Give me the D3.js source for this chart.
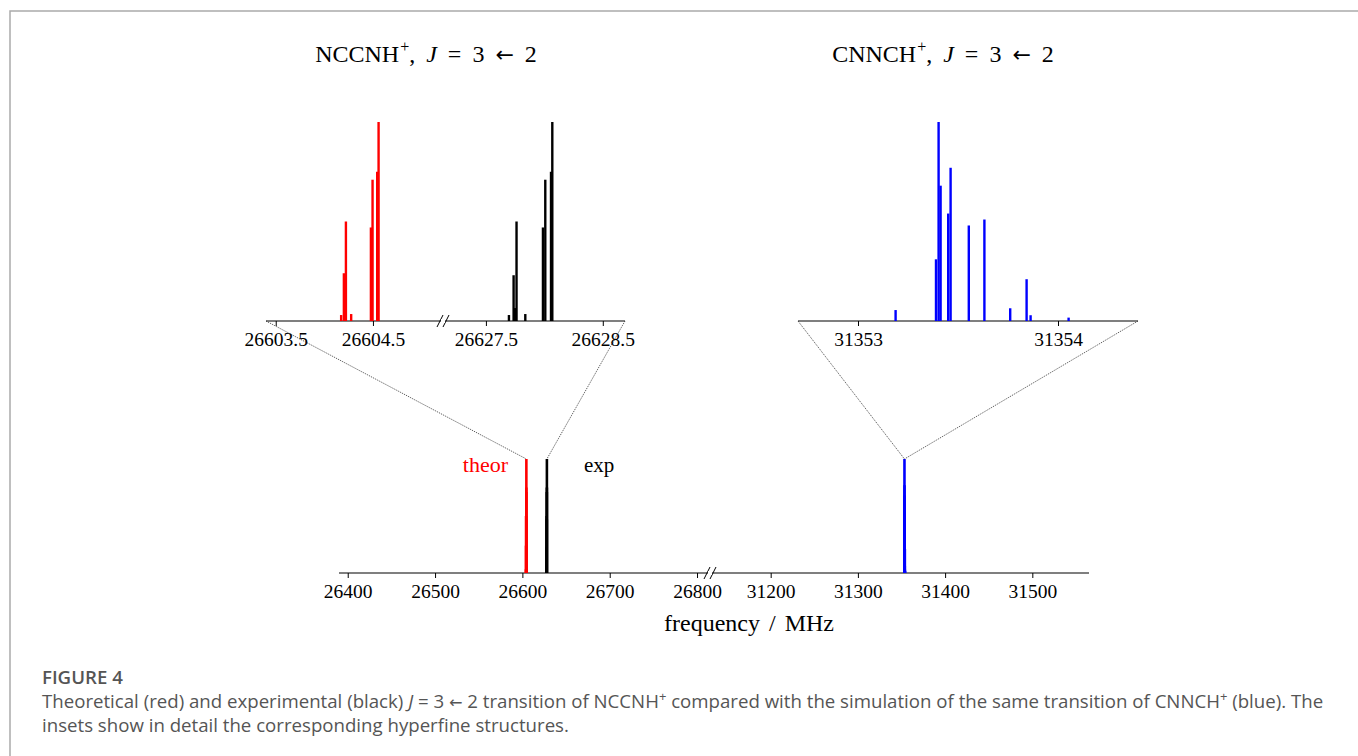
<!DOCTYPE html>
<html lang="en">
<head>
<meta charset="utf-8">
<title>NCCNH+ / CNNCH+ J=3-2</title>
<script src="https://cdnjs.cloudflare.com/ajax/libs/d3/7.8.5/d3.min.js"></script>
<style>
body { margin: 0; background: #fff; }
svg text { font-family: "Liberation Serif", "DejaVu Serif", serif; }
</style>
</head>
<body>
<script>

// hyperfine components (MHz, relative intensity)
var theorFreq = [26604.173, 26604.201, 26604.222, 26604.276, 26604.479, 26604.496, 26604.544, 26604.558];
var theorInt  = [0.03, 0.24, 0.50, 0.035, 0.47, 0.71, 0.75, 1.0];

var expFreq = [26627.697, 26627.737, 26627.748, 26627.762, 26627.837, 26627.988, 26628.008, 26628.057, 26628.068];
var expInt  = [0.03, 0.23, 0.065, 0.50, 0.035, 0.47, 0.71, 0.75, 1.0];

var cnnchFreq = [31353.188, 31353.390, 31353.403, 31353.413, 31353.451, 31353.463, 31353.554, 31353.632, 31353.761, 31353.843, 31353.863, 31354.053];
var cnnchInt  = [0.055, 0.31, 1.0, 0.68, 0.54, 0.77, 0.48, 0.51, 0.064, 0.21, 0.029, 0.017];

// axis ticks
var mainTicksLeft  = [26400, 26500, 26600, 26700, 26800];
var mainTicksRight = [31200, 31300, 31400, 31500];
var insetTicksA = [26603.5, 26604.5];
var insetTicksB = [26627.5, 26628.5];
var insetTicksC = [31353, 31354];

function pairs(f, v){
	return f.map(function(d, i){ return {f: d, v: v[i]}; });
}
var theor = pairs(theorFreq, theorInt);
var exp = pairs(expFreq, expInt);
var cnnch = pairs(cnnchFreq, cnnchInt);

var svg = d3.select("body").append("svg")
	.attr("width", 1358)
	.attr("height", 756);

svg.append("rect").attr("width", 1358).attr("height", 756).attr("fill", "#fff");

// page frame
svg.append("path")
	.attr("d", "M10,756 V11 H1358")
	.attr("fill", "none")
	.attr("stroke", "#aaa")
	.attr("stroke-width", 1.5);

// ---------- scales ----------
var xMainL = d3.scaleLinear().domain([26390, 26816]).range([339, 711]);
var xMainR = d3.scaleLinear().domain([31135, 31565]).range([714, 1089]);
var yMain = d3.scaleLinear().domain([0, 1]).range([573, 459]);

var xInA = d3.scaleLinear().domain([26603.4, 26605.2]).range([266, 441]);
var xInB = d3.scaleLinear().domain([26627.15, 26628.69]).range([445, 625]);
var xInC = d3.scaleLinear().domain([31352.70, 31354.40]).range([798, 1138]);
var yIn = d3.scaleLinear().domain([0, 1]).range([321, 122]);

function drawAxis(scale, ticks, y, fmt){
	var ax = d3.axisBottom(scale)
		.tickValues(ticks)
		.tickSize(5)
		.tickPadding(6)
		.tickFormat(fmt);
	var g = svg.append("g")
		.attr("transform", "translate(0," + y + ")")
		.call(ax);
	g.select(".domain").remove();
	g.selectAll(".tick line").attr("stroke", "#000").attr("stroke-width", 1);
	g.selectAll(".tick text")
		.attr("fill", "#000")
		.style("font-size", "19.5px")
		.style("font-family", "'Liberation Serif', serif");
	return g;
}

function baseline(x0, x1, y){
	svg.append("line")
		.attr("x1", x0).attr("x2", x1)
		.attr("y1", y).attr("y2", y)
		.attr("stroke", "#000").attr("stroke-width", 1.2);
}

function breakMark(x, y){
	[-3, 3].forEach(function(dx){
		svg.append("line")
			.attr("x1", x + dx - 3).attr("y1", y + 6)
			.attr("x2", x + dx + 3).attr("y2", y - 6)
			.attr("stroke", "#000").attr("stroke-width", 1);
	});
	svg.append("rect")
		.attr("x", x - 2).attr("y", y - 2)
		.attr("width", 4).attr("height", 4)
		.attr("fill", "#fff");
}

function sticks(data, xs, ys, color, w){
	svg.append("g")
		.selectAll("line")
		.data(data)
		.enter()
		.append("line")
		.attr("x1", function(d){ return xs(d.f); })
		.attr("x2", function(d){ return xs(d.f); })
		.attr("y1", ys(0))
		.attr("y2", function(d){ return ys(d.v); })
		.attr("stroke", color)
		.attr("stroke-width", w);
}

// ---------- main spectrum ----------
baseline(339, 1089, 573);
breakMark(710, 573);
drawAxis(xMainL, mainTicksLeft, 573, d3.format("d"));
drawAxis(xMainR, mainTicksRight, 573, d3.format("d"));

sticks(theor, xMainL, yMain, "#ff0000", 2.6);
sticks(exp, xMainL, yMain, "#000", 2.6);
sticks(cnnch, xMainR, yMain, "#0000ff", 2.6);

// ---------- insets ----------
baseline(266, 625, 321);
breakMark(443, 321);
baseline(798, 1138, 321);
drawAxis(xInA, insetTicksA, 321, d3.format(".1f"));
drawAxis(xInB, insetTicksB, 321, d3.format(".1f"));
drawAxis(xInC, insetTicksC, 321, d3.format("d"));

sticks(theor, xInA, yIn, "#ff0000", 2.4);
sticks(exp, xInB, yIn, "#000", 2.4);
sticks(cnnch, xInC, yIn, "#0000ff", 2.4);

// zoom connector lines
var topTheor = theor[d3.maxIndex(theor, function(d){ return d.v; })];
var topExp = exp[d3.maxIndex(exp, function(d){ return d.v; })];
var topC = cnnch[d3.maxIndex(cnnch, function(d){ return d.v; })];
var connectors = [
	[xInA.range()[0], 321, xMainL(topTheor.f), yMain(1)],
	[xInB.range()[1], 321, xMainL(topExp.f), yMain(1)],
	[xInC.range()[0], 321, xMainR(topC.f), yMain(1)],
	[xInC.range()[1], 321, xMainR(topC.f), yMain(1)]
];
svg.append("g")
	.selectAll("line")
	.data(connectors)
	.enter()
	.append("line")
	.attr("x1", function(d){ return d[0]; })
	.attr("y1", function(d){ return d[1]; })
	.attr("x2", function(d){ return d[2]; })
	.attr("y2", function(d){ return d[3]; })
	.attr("stroke", "#333")
	.attr("stroke-width", 0.8)
	.attr("stroke-dasharray", "1.2,1");

// ---------- labels ----------
svg.append("text")
	.attr("x", 508).attr("y", 472)
	.attr("text-anchor", "end")
	.attr("fill", "#ff0000")
	.style("font-size", "22px")
	.text("theor");
svg.append("text")
	.attr("x", 584).attr("y", 472)
	.attr("fill", "#000")
	.style("font-size", "21px")
	.text("exp");

svg.append("text")
	.attr("x", 749).attr("y", 631)
	.attr("text-anchor", "middle")
	.style("font-size", "24px")
	.style("word-spacing", "3px")
	.text("frequency / MHz");

function title(x, mol){
	var t = svg.append("text")
		.attr("x", x).attr("y", 62)
		.attr("text-anchor", "middle")
		.style("font-size", "24px")
		.style("word-spacing", "5px");
	t.append("tspan").text(mol);
	t.append("tspan").attr("dy", -10).attr("dx", 1).style("font-size", "16px").text("+");
	t.append("tspan").attr("dy", 10).text(", ");
	t.append("tspan").style("font-style", "italic").text("J");
	t.append("tspan").text(" = 3 ");
	t.append("tspan").style("font-family", "'DejaVu Sans', sans-serif").style("font-size", "22px").text("\u2190");
	t.append("tspan").text(" 2");
}
title(426, "NCCNH");
title(943, "CNNCH");

// ---------- caption ----------
var capSize = "18.65px";
var cap = svg.append("g").attr("fill", "#555");
cap.append("text")
	.attr("x", 42).attr("y", 684)
	.style("font-family", "'Open Sans', sans-serif")
	.style("font-size", capSize)
	.style("font-weight", 600)
	.text("FIGURE 4");
var l1 = cap.append("text")
	.attr("x", 42).attr("y", 708)
	.style("font-family", "'Open Sans', sans-serif")
	.style("font-size", capSize);
l1.append("tspan").text("Theoretical (red) and experimental (black) ");
l1.append("tspan").style("font-style", "italic").text("J");
l1.append("tspan").text(" = 3 ");
l1.append("tspan").style("font-family", "'DejaVu Sans', sans-serif").style("font-size", "16px").text("\u2190");
l1.append("tspan").text(" 2 transition of NCCNH");
l1.append("tspan").attr("dy", -7).style("font-size", "13px").text("+");
l1.append("tspan").attr("dy", 7).text(" compared with the simulation of the same transition of CNNCH");
l1.append("tspan").attr("dy", -7).style("font-size", "13px").text("+");
l1.append("tspan").attr("dy", 7).text(" (blue). The");
cap.append("text")
	.attr("x", 42).attr("y", 732)
	.style("font-family", "'Open Sans', sans-serif")
	.style("font-size", capSize)
	.text("insets show in detail the corresponding hyperfine structures.");

</script>
</body>
</html>
